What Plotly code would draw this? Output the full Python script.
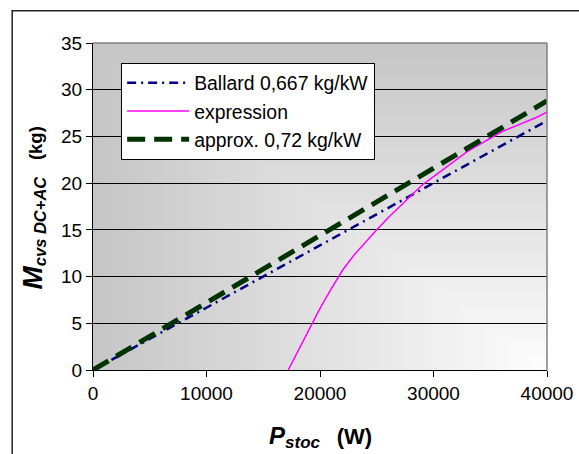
import base64
import struct
import zlib

import numpy as np
import plotly.graph_objects as go

# Stack power (W) and mass of the DC+AC converters (kg)
p_lin = [0, 10000, 20000, 30000, 40000]
ballard_kg = [0, 6.67, 13.34, 20.01, 26.68]      # Ballard 0,667 kg/kW
approx_kg = [0, 7.2, 14.4, 21.6, 28.8]           # approx. 0,72 kg/kW

p_expr = [17200, 18000, 19000, 20000, 21000, 22000, 23000, 24000, 25000,
          26000, 27000, 28000, 29000, 30000, 31000, 32000, 33000, 34000,
          35000, 36000, 37000, 38000, 39000, 40000]
expr_kg = [0, 1.85, 4.2, 6.6, 8.7, 10.7, 12.3, 13.7, 15.0,
           16.3, 17.5, 18.6, 19.8, 20.7, 21.6, 22.5, 23.4, 24.1,
           24.8, 25.5, 26.0, 26.5, 27.0, 27.6]

x_ticks = [0, 10000, 20000, 30000, 40000]
y_ticks = [0, 5, 10, 15, 20, 25, 30, 35]

FONT = "Liberation Sans, Arial, sans-serif"


def corner_gradient_png(w, h, dark=198, light=253):
    """Grey-to-white fill radiating from the bottom-right corner."""
    xn = np.linspace(0.0, 1.0, w)[None, :]
    yn = np.linspace(0.0, 1.0, h)[:, None]
    t = np.maximum(1.0 - xn, yn * 0 + (1.0 - yn))
    img = np.round(light - (light - dark) * t).astype(np.uint8)
    raw = b"".join(b"\x00" + img[r].tobytes() for r in range(h))

    def chunk(tag, data):
        return (struct.pack(">I", len(data)) + tag + data
                + struct.pack(">I", zlib.crc32(tag + data) & 0xFFFFFFFF))

    png = (b"\x89PNG\r\n\x1a\n"
           + chunk(b"IHDR", struct.pack(">IIBBBBB", w, h, 8, 0, 0, 0, 0))
           + chunk(b"IDAT", zlib.compress(raw, 9))
           + chunk(b"IEND", b""))
    return "data:image/png;base64," + base64.b64encode(png).decode()


def sized(text, px):
    return f'<span style="font-size:{px}px">{text}</span>'


fig = go.Figure()

fig.add_trace(go.Scatter(
    x=p_lin, y=ballard_kg, mode="lines", name="Ballard 0,667 kg/kW",
    legendgroup="a",
    line=dict(color="#000080", width=2.5, dash="9px,5px,2px,5px"),
))
fig.add_trace(go.Scatter(
    x=p_expr, y=expr_kg, mode="lines", name="expression",
    legendgroup="b",
    line=dict(color="#ff00ff", width=1.5),
))
fig.add_trace(go.Scatter(
    x=p_lin, y=approx_kg, mode="lines", name="approx. 0,72 kg/kW",
    legendgroup="c",
    line=dict(color="#003300", width=5, dash="18px,9px"),
))

fig.add_layout_image(dict(
    source=corner_gradient_png(228, 164),
    xref="x", yref="y", x=0, y=35, sizex=40000, sizey=35,
    sizing="stretch", layer="below", xanchor="left", yanchor="top",
))

# grey frame of the plot area and the outer chart border
fig.add_shape(type="line", xref="paper", yref="paper", x0=0, y0=1, x1=1, y1=1,
              line=dict(color="#808080", width=1.5), layer="above")
fig.add_shape(type="line", xref="paper", yref="paper", x0=1, y0=0, x1=1, y1=1,
              line=dict(color="#808080", width=1.5), layer="above")
fig.add_shape(type="rect", xref="paper", yref="paper",
              x0=-0.178, y0=-0.5, x1=1.3, y1=1.099,
              line=dict(color="#222222", width=1.5), layer="below")

fig.add_annotation(
    xref="paper", yref="paper", x=0.5, y=-0.205, yanchor="middle",
    showarrow=False,
    text=(sized("<b><i>P</i></b>", 24)
          + "<sub>" + sized("<b><i>stoc</i></b>", 17) + "</sub>   "
          + sized("<b>(W)</b>", 22)),
    font=dict(family=FONT, size=20, color="black"),
)
fig.add_annotation(
    xref="paper", yref="paper", x=-0.132, y=0.494, xanchor="center",
    textangle=-90, showarrow=False,
    text=(sized("<b><i>M</i></b>", 28)
          + "<sub>" + sized("<b><i>cvs DC+AC</i></b>", 16.5) + "</sub>   "
          + sized("<b>(kg)</b>", 18.5)),
    font=dict(family=FONT, size=20, color="black"),
)

fig.update_xaxes(
    range=[0, 40000], tickvals=x_ticks, ticktext=[str(v) for v in x_ticks],
    showgrid=False, zeroline=False, showline=True, linecolor="black",
    linewidth=1, ticks="outside", ticklen=6, tickcolor="black",
    tickfont=dict(family=FONT, size=19, color="black"),
    automargin=False,
)
fig.update_yaxes(
    range=[0, 35], tickvals=y_ticks, showgrid=True, gridcolor="black",
    gridwidth=1, zeroline=False, showline=True, linecolor="black",
    linewidth=1, ticks="outside", ticklen=6, tickcolor="black",
    tickfont=dict(family=FONT, size=19, color="black"),
    automargin=False,
)

fig.update_layout(
    width=579, height=454,
    margin=dict(l=93, r=32, t=43, b=84),
    paper_bgcolor="white", plot_bgcolor="white",
    font=dict(family=FONT, size=19, color="black"),
    showlegend=True,
    legend=dict(
        x=0.062, y=0.94, xanchor="left", yanchor="top",
        bgcolor="white", bordercolor="black", borderwidth=1,
        font=dict(family=FONT, size=19.4, color="black"),
        tracegroupgap=0, itemwidth=62,
    ),
)

fig.write_html("out.html")
